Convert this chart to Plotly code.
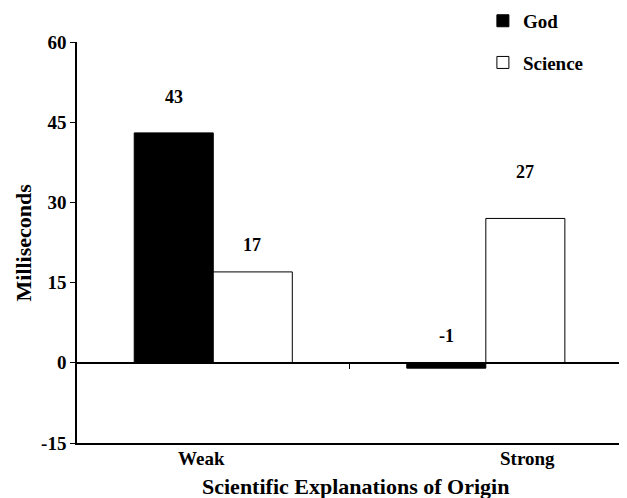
import plotly.graph_objects as go

categories = ["Weak", "Strong"]
god_values = [43, -1]
science_values = [17, 27]
god_labels = ["43", "-1"]
science_labels = ["17", "27"]
y_ticks = [-15, 0, 15, 30, 45, 60]
y_tick_text = ["-15", "0", "15", "30", "45", "60"]

FONT = "Liberation Serif"
fig = go.Figure()
fig.add_trace(go.Bar(x=categories, y=god_values, name="God",
                     marker=dict(color="black", line=dict(color="black", width=1)),
                     legendgroup="g"))
fig.add_trace(go.Bar(x=categories, y=science_values, name="Science",
                     marker=dict(color="white", line=dict(color="black", width=1)),
                     legendgroup="s"))
# invisible trace to draw the secondary axis at zero
fig.add_trace(go.Scatter(x=[-0.5, 1.5], y=[0, 0], xaxis="x2", mode="lines",
                         line=dict(width=0), showlegend=False, hoverinfo="skip"))

bold = lambda s: "<b>" + s + "</b>"

# value labels (offsets above bars in data units)
god_off = [6.7, 5.0]
sci_off = [5.0, 8.7]
for i, c in enumerate(categories):
    fig.add_annotation(x=i, y=max(god_values[i], 0) + god_off[i], text=bold(god_labels[i]),
                       xshift=-39, showarrow=False,
                       font=dict(family=FONT, size=18, color="black"))
    fig.add_annotation(x=i, y=max(science_values[i], 0) + sci_off[i], text=bold(science_labels[i]),
                       xshift=39, showarrow=False,
                       font=dict(family=FONT, size=18, color="black"))

# category labels
fig.add_annotation(x=0, y=0, yref="paper", yshift=-28, xshift=-12, text=bold("Weak"),
                   showarrow=False, font=dict(family=FONT, size=19, color="black"))
fig.add_annotation(x=1, y=0, yref="paper", yshift=-28, xshift=42, text=bold("Strong"),
                   showarrow=False, font=dict(family=FONT, size=19, color="black"))
fig.add_annotation(x=0.507, xref="paper", y=0, yref="paper", yshift=-58, xanchor="center",
                   text=bold("Scientific Explanations of Origin"),
                   showarrow=False, font=dict(family=FONT, size=22, color="black"))
fig.add_annotation(x=0, xref="paper", y=0.5, yref="paper", xshift=-54, xanchor="center",
                   yanchor="middle", text=bold("Milliseconds"),
                   textangle=-90, showarrow=False,
                   font=dict(family=FONT, size=22, color="black"))

XR = [-0.5, 1.518]
fig.update_layout(
    width=619, height=490,
    margin=dict(l=69, r=0, t=34, b=55, autoexpand=False),
    paper_bgcolor="white", plot_bgcolor="white",
    barmode="group", bargap=0.42, bargroupgap=0,
    font=dict(family=FONT, size=16, color="black"),
    showlegend=True,
    legend=dict(x=0.738, y=1.1, xanchor="left", yanchor="top",
                traceorder="grouped", tracegroupgap=14, itemwidth=30,
                bgcolor="rgba(0,0,0,0)",
                font=dict(family=FONT, size=19, color="black", weight="bold")),
    xaxis=dict(range=XR, showticklabels=False, ticks="",
               showline=True, linecolor="black", linewidth=1.5,
               showgrid=False, zeroline=False, fixedrange=True),
    xaxis2=dict(overlaying="x", anchor="free", position=0.2, range=XR,
                tickvals=[0.5, 1.5], ticks="outside", ticklen=5, tickcolor="black",
                showticklabels=False, showline=True, linecolor="black", linewidth=1.5,
                showgrid=False, zeroline=False),
    yaxis=dict(range=[-15, 60], tickvals=y_ticks, ticktext=[bold(t) for t in y_tick_text],
               ticks="outside", ticklen=5,
               tickcolor="black", showline=True, linecolor="black", linewidth=1.5,
               showgrid=False, zeroline=False, automargin=False,
               tickfont=dict(family=FONT, size=19, color="black")),
)

fig.write_html("out.html")
